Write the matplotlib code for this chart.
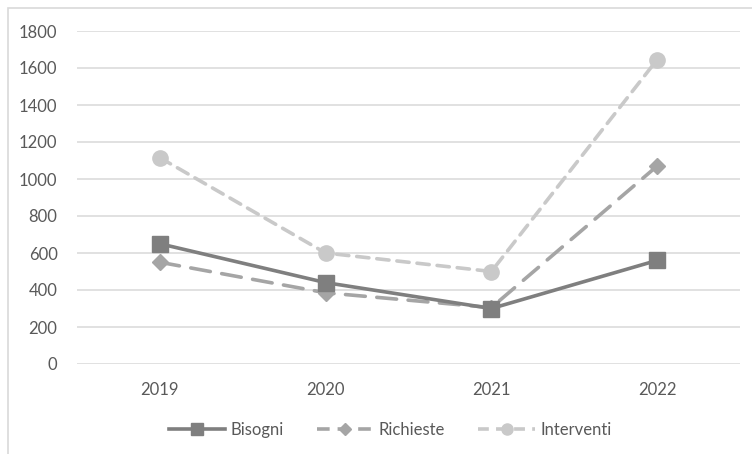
import matplotlib
matplotlib.use("Agg")
import matplotlib.pyplot as plt
from matplotlib.patches import Rectangle
from matplotlib.lines import Line2D

years = ["2019", "2020", "2021", "2022"]
bisogni = [650, 440, 300, 560]
richieste = [550, 385, 305, 1070]
interventi = [1115, 600, 500, 1645]
yticks = [0, 200, 400, 600, 800, 1000, 1200, 1400, 1600, 1800]

plt.rcParams['font.family'] = ['Lato', 'DejaVu Sans']

W, H = 752, 454
fig = plt.figure(figsize=(W / 100, H / 100), dpi=100)
fig.patch.set_facecolor("white")

# outer chart frame (extends past the right/bottom edge)
fig.patches.append(Rectangle((8 / W, -0.1), 1.2, (H - 8) / H + 0.1,
                             transform=fig.transFigure, fill=False,
                             edgecolor="#d9d9d9", linewidth=1.2))

left, right = 77 / W, 740 / W
bottom, top = 1 - 364 / H, 1 - 31 / H
ax = fig.add_axes([left, bottom, right - left, top - bottom])

x = list(range(len(years)))
c_b, c_r, c_i = "#7f7f7f", "#a5a5a5", "#c9c9c9"

ax.plot(x, interventi, color=c_i, lw=2.6, dashes=(3.4, 2.2), dash_capstyle="round",
        marker="o", ms=11, mec=c_i, mfc=c_i, label="Interventi", zorder=3)
ax.plot(x, richieste, color=c_r, lw=2.6, dashes=(5.5, 3.2), dash_capstyle="round",
        marker="D", ms=8, mec=c_r, mfc=c_r, label="Richieste", zorder=4)
ax.plot(x, bisogni, color=c_b, lw=2.6, solid_capstyle="round",
        marker="s", ms=11, mec=c_b, mfc=c_b, label="Bisogni", zorder=5)

ax.set_xlim(-0.5, len(years) - 0.5)
ax.set_ylim(0, 1800)
ax.set_yticks(yticks)
ax.set_yticklabels([str(v) for v in yticks])
ax.set_xticks(x)
ax.set_xticklabels(years)
ax.grid(axis="y", color="#d9d9d9", lw=1.1)
ax.set_axisbelow(True)
for s in ax.spines.values():
    s.set_visible(False)
ax.tick_params(axis="both", length=0, colors="#595959", labelsize=12)
ax.tick_params(axis="y", pad=14)
ax.tick_params(axis="x", pad=13)

handles = [
    Line2D([], [], color=c_b, lw=2.6, marker="s", ms=9, mfc=c_b, mec=c_b),
    Line2D([], [], color=c_r, lw=2.6, dashes=(3.5, 2.2), marker="D", ms=6, mfc=c_r, mec=c_r),
    Line2D([], [], color=c_i, lw=2.6, dashes=(3.0, 2.0), marker="o", ms=8, mfc=c_i, mec=c_i),
]
leg = fig.legend(handles, ["Bisogni", "Richieste", "Interventi"], loc="center",
                 bbox_to_anchor=(390 / W, 1 - 430 / H), ncol=3, frameon=False,
                 fontsize=12, handlelength=3.4, handletextpad=0.3, columnspacing=2.0)
for t in leg.get_texts():
    t.set_color("#595959")

fig.savefig("out.png", dpi=100, facecolor="white")
